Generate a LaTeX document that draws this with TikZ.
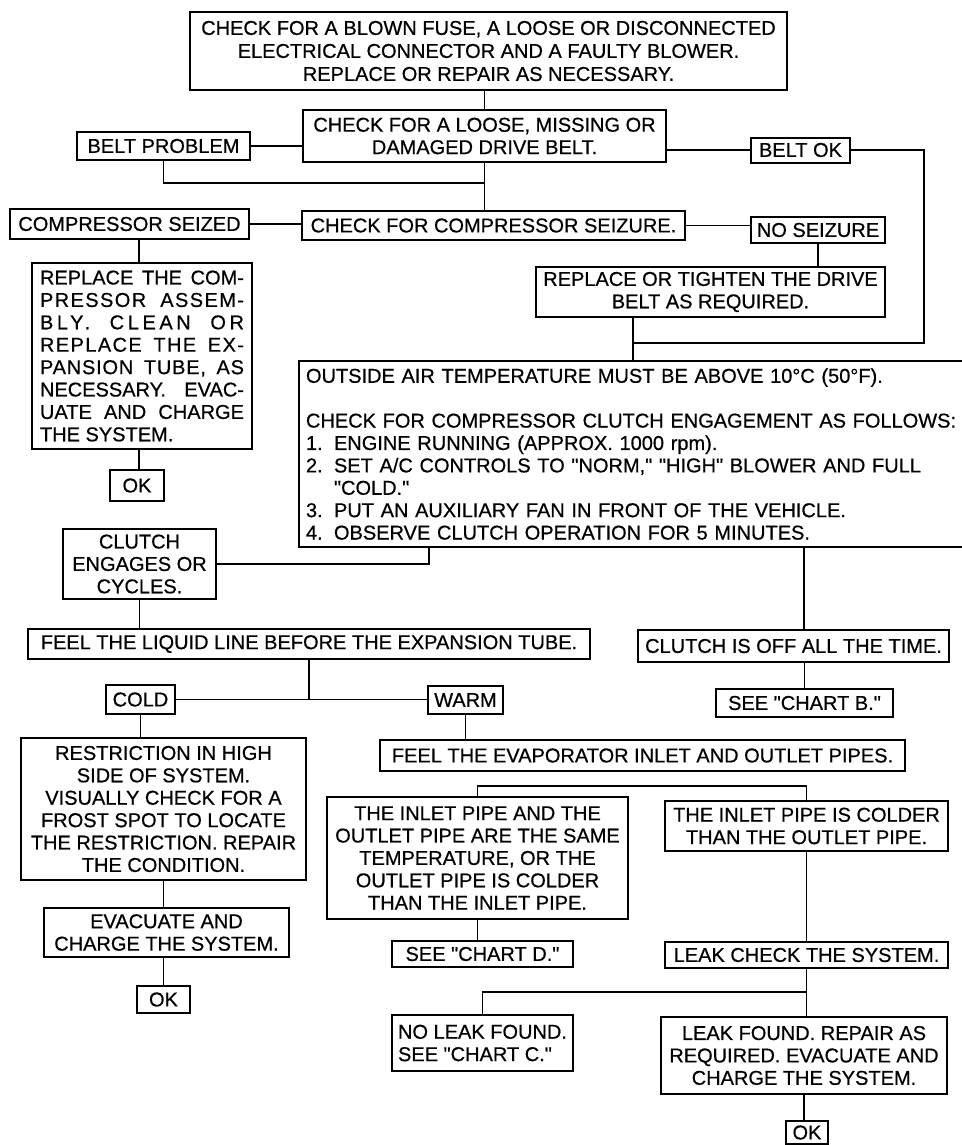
\documentclass[tikz,border=0pt]{standalone}
\usepackage{fontspec}
\setmainfont{Liberation Sans}[Ligatures=TeXOff, FakeBold=0.6]
\usepackage{tikz}

\begin{document}
\begin{tikzpicture}[x=0.5pt, y=-0.5pt,
  box/.style={draw, line width=1pt, inner sep=0pt, align=center,
    font=\fontsize{10}{11.2}\selectfont},
  wh/.style 2 args={minimum width=#1*0.5pt, minimum height=#2*0.5pt},
  link/.style={line width=0.8pt}]
  \useasboundingbox (0,0) rectangle (962,1145);

  \node[box, wh={597}{78}, font=\fontsize{10}{11.5}\selectfont] (top) at (488.5,51) {%
    CHECK FOR A BLOWN FUSE, A LOOSE OR DISCONNECTED\\
    ELECTRICAL CONNECTOR AND A FAULTY BLOWER.\\
    REPLACE OR REPAIR AS NECESSARY.};
  \node[box, wh={363}{52}] (belt) at (484.5,136) {%
    CHECK FOR A LOOSE, MISSING OR\\DAMAGED DRIVE BELT.};
  \node[box, wh={173}{28}] (bprob) at (163.5,146) {BELT PROBLEM};
  \node[box, wh={99}{25}] (bok) at (800.5,150) {BELT OK};
  \node[box, wh={239}{30}] (seized) at (129.5,224) {COMPRESSOR SEIZED};
  \node[box, wh={383}{29}] (seizure) at (493.5,225.5) {CHECK FOR COMPRESSOR SEIZURE.};
  \node[box, wh={134}{26}] (noseize) at (818,230) {NO SEIZURE};
  \node[box, wh={349}{50}] (tighten) at (710.5,292) {%
    REPLACE OR TIGHTEN THE DRIVE\\BELT AS REQUIRED.};
  \node[box, wh={220}{186}] (replace) at (142,356) {%
    \makebox[102pt][s]{REPLACE THE COM-}\\
    \makebox[102pt][s]{\addfontfeature{LetterSpace=7}PRESSOR ASSEM-}\\
    \makebox[102pt][s]{\addfontfeature{LetterSpace=18}BLY. CLEAN OR}\\
    \makebox[102pt][s]{\addfontfeature{LetterSpace=7}REPLACE THE EX-}\\
    \makebox[102pt][s]{\addfontfeature{LetterSpace=4}PANSION TUBE, AS}\\
    \makebox[102pt][s]{NECESSARY. EVAC-}\\
    \makebox[102pt][s]{UATE AND CHARGE}\\
    \makebox[102pt][l]{THE SYSTEM.}};
  \node[box, wh={54}{31}] (ok1) at (137,485.5) {OK};
  \node[box, align=left, anchor=north west, text width=326pt, inner xsep=3.5pt,
    minimum height=93pt] (outside) at (298,360) {%
    OUTSIDE AIR TEMPERATURE MUST BE ABOVE 10°C (50°F).\\[11.2pt]
    CHECK FOR COMPRESSOR CLUTCH ENGAGEMENT AS FOLLOWS:\\
    \makebox[14pt][l]{1.}ENGINE RUNNING (APPROX. 1000 rpm).\\
    \makebox[14pt][l]{2.}SET A/C CONTROLS TO "NORM," "HIGH" BLOWER AND FULL\\
    \hspace*{14pt}"COLD."\\
    \makebox[14pt][l]{3.}PUT AN AUXILIARY FAN IN FRONT OF THE VEHICLE.\\
    \makebox[14pt][l]{4.}OBSERVE CLUTCH OPERATION FOR 5 MINUTES.};
  \node[box, wh={153}{70}] (clutch) at (139.5,564) {CLUTCH\\ENGAGES OR\\CYCLES.};
  \node[box, wh={311}{32}] (off) at (793.5,646) {CLUTCH IS OFF ALL THE TIME.};
  \node[box, wh={177}{28}] (chartb) at (804.5,703) {SEE "CHART B."};
  \node[box, wh={562}{30}] (liquid) at (309,644) {%
    FEEL THE LIQUID LINE BEFORE THE EXPANSION TUBE.};
  \node[box, wh={69}{29}] (cold) at (140.5,699.5) {COLD};
  \node[box, wh={75}{28}] (warm) at (465.5,700) {WARM};
  \node[box, wh={285}{142}] (restr) at (163.5,809) {%
    RESTRICTION IN HIGH\\SIDE OF SYSTEM.\\VISUALLY CHECK FOR A\\
    FROST SPOT TO LOCATE\\THE RESTRICTION. REPAIR\\THE CONDITION.};
  \node[box, wh={245}{49}] (evac) at (166.5,932.5) {EVACUATE AND\\CHARGE THE SYSTEM.};
  \node[box, wh={53}{27}] (ok2) at (163.5,999.5) {OK};
  \node[box, wh={525}{31}] (evap) at (642.5,755.5) {%
    FEEL THE EVAPORATOR INLET AND OUTLET PIPES.};
  \node[box, wh={301}{122}] (same) at (477.5,858) {%
    THE INLET PIPE AND THE\\OUTLET PIPE ARE THE SAME\\TEMPERATURE, OR THE\\
    OUTLET PIPE IS COLDER\\THAN THE INLET PIPE.};
  \node[box, wh={283}{50}] (colder) at (806.5,826) {%
    THE INLET PIPE IS COLDER\\THAN THE OUTLET PIPE.};
  \node[box, wh={181}{26}] (chartd) at (482.5,954) {SEE "CHART D."};
  \node[box, wh={283}{26}] (leak) at (806.5,955) {LEAK CHECK THE SYSTEM.};
  \node[box, wh={181}{56}, align=left] (noleak) at (482.5,1043) {%
    NO LEAK FOUND.\\SEE "CHART C."};
  \node[box, wh={286}{77}] (found) at (804,1055.5) {%
    LEAK FOUND. REPAIR AS\\REQUIRED. EVACUATE AND\\CHARGE THE SYSTEM.};
  \node[box, wh={42}{23}] (ok3) at (807,1132.5) {OK};

  \coordinate (j1) at (484.5,183);
  \coordinate (j2) at (924,343);
  \coordinate (j3) at (633,343);
  \coordinate (j4) at (429,0);
  \coordinate (j5) at (804,0);
  \coordinate (j6) at (0,786);
  \coordinate (j7) at (0,992);
  \coordinate (j8) at (139,0);

  \draw[link] (belt.north |- top.south) -- (belt.north);
  \draw[link] (bprob.east) -- (bprob.east -| belt.west);
  \draw[link] (bok.west) -- (bok.west -| belt.east);
  \draw[link] (belt.south) -- (belt.south |- seizure.north);
  \draw[link] (bprob.south) |- (j1);
  \draw[link] (bok.east) -| (j2) -- (j3);
  \draw[link] (seized.east) -- (seized.east -| seizure.west);
  \draw[link] (seizure.east) -- (seizure.east -| noseize.west);
  \draw[link] (noseize.south) -- (noseize.south |- tighten.north);
  \draw[link] (j3 |- tighten.south) -- (j3 |- outside.north);
  \draw[link] (j8 |- seized.south) -- (j8 |- replace.north);
  \draw[link] (j8 |- replace.south) -- (j8 |- ok1.north);
  \draw[link] (clutch.east) -| (j4 |- outside.south);
  \draw[link] (j5 |- outside.south) -- (j5 |- off.north);
  \draw[link] (chartb.north |- off.south) -- (chartb.north);
  \draw[link] (clutch.south) -- (clutch.south |- liquid.north);
  \draw[link] (liquid.south) -- (liquid.south |- cold.east);
  \draw[link] (cold.east) -- (cold.east -| warm.west);
  \draw[link] (cold.south) -- (cold.south |- restr.north);
  \draw[link] (restr.south) -- (restr.south |- evac.north);
  \draw[link] (ok2.north |- evac.south) -- (ok2.north);
  \draw[link] (warm.south) -- (warm.south |- evap.north);
  \draw[link] (same.north) |- (colder.north |- j6) -- (colder.north);
  \draw[link] (same.south) -- (same.south |- chartd.north);
  \draw[link] (colder.south) -- (colder.south |- leak.north);
  \draw[link] (leak.south) -- (leak.south |- found.north);
  \draw[link] (noleak.north) |- (leak.south |- j7);
  \draw[link] (found.south) -- (found.south |- ok3.north);
\end{tikzpicture}
\end{document}
